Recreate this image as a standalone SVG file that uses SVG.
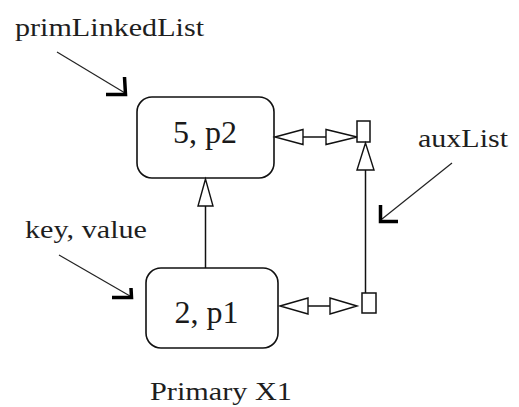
<svg xmlns="http://www.w3.org/2000/svg" width="519" height="407" viewBox="0 0 519 407">
  <style>
    .bg { fill: #ffffff; }
    .node { fill: #ffffff; stroke: #111; stroke-width: 1.6; }
    .cell { fill: #ffffff; stroke: #111; stroke-width: 1.5; }
    .edge { fill: none; stroke: #111; stroke-width: 1.5; }
    .head { fill: #ffffff; stroke: #111; stroke-width: 1.4; stroke-linejoin: miter; }
    .pointer { fill: none; stroke: #222; stroke-width: 1.2; }
    .hook { fill: none; stroke: #000; stroke-width: 3.5; stroke-linejoin: miter; stroke-linecap: butt; }
    .key { font-family: "Liberation Serif", "Times New Roman", serif; font-size: 32px; fill: #1a1a1a; text-anchor: middle; }
    .label { font-family: "Liberation Serif", "Times New Roman", serif; font-size: 26px; fill: #1e1e1e; }
  </style>

  <rect class="bg" x="0" y="0" width="519" height="407"/>

  <!-- list nodes -->
  <g id="node-5-p2">
    <rect class="node" x="137" y="97" width="137" height="81" rx="15" ry="15"/>
    <text class="key" x="205" y="143">5, p2</text>
  </g>
  <g id="node-2-p1">
    <rect class="node" x="146" y="268" width="132" height="80" rx="15" ry="15"/>
    <text class="key" x="206.5" y="323">2, p1</text>
  </g>

  <!-- auxiliary list cells -->
  <g id="aux-cell-top">
    <rect class="cell" x="357" y="121" width="13" height="21"/>
  </g>
  <g id="aux-cell-bottom">
    <rect class="cell" x="362" y="293" width="14" height="20"/>
  </g>

  <!-- connectors -->
  <g id="connectors">
    <!-- primary link: 2,p1 -> 5,p2 -->
    <line class="edge" x1="205.5" y1="206" x2="205.5" y2="268"/>
    <polygon class="head" points="205.5,179 198,206 213,206"/>

    <!-- aux link: bottom cell -> top cell -->
    <line class="edge" x1="365.5" y1="170" x2="365.5" y2="293"/>
    <polygon class="head" points="365.5,143 357,170 374,170"/>

    <!-- top node <-> top cell -->
    <line class="edge" x1="303" y1="137" x2="326" y2="137"/>
    <polygon class="head" points="275,137 303,129.5 303,144.5"/>
    <polygon class="head" points="357,137 326,129.5 326,144.5"/>

    <!-- bottom node <-> bottom cell -->
    <line class="edge" x1="308" y1="306" x2="330" y2="306"/>
    <polygon class="head" points="280,306 308,298 308,314"/>
    <polygon class="head" points="357,306 330,298 330,314"/>
  </g>

  <!-- annotations -->
  <g id="label-primLinkedList">
    <text class="label" x="15" y="36" textLength="189" lengthAdjust="spacingAndGlyphs">primLinkedList</text>
    <line class="pointer" x1="57" y1="52" x2="125" y2="93"/>
    <polyline class="hook" points="106,94.5 125.5,94.5 124.5,77"/>
  </g>
  <g id="label-key-value">
    <text class="label" x="25" y="238" textLength="122" lengthAdjust="spacingAndGlyphs">key, value</text>
    <line class="pointer" x1="59" y1="255" x2="130" y2="296"/>
    <polyline class="hook" points="112,297.5 131.5,297.5 131,288"/>
  </g>
  <g id="label-auxList">
    <text class="label" x="418" y="147" textLength="90" lengthAdjust="spacingAndGlyphs">auxList</text>
    <line class="pointer" x1="452" y1="163" x2="382" y2="219"/>
    <polyline class="hook" points="380.5,205 380.5,221.5 398,221.5"/>
  </g>
  <g id="caption">
    <text class="label" x="150" y="400" textLength="142" lengthAdjust="spacingAndGlyphs">Primary X1</text>
  </g>
</svg>
